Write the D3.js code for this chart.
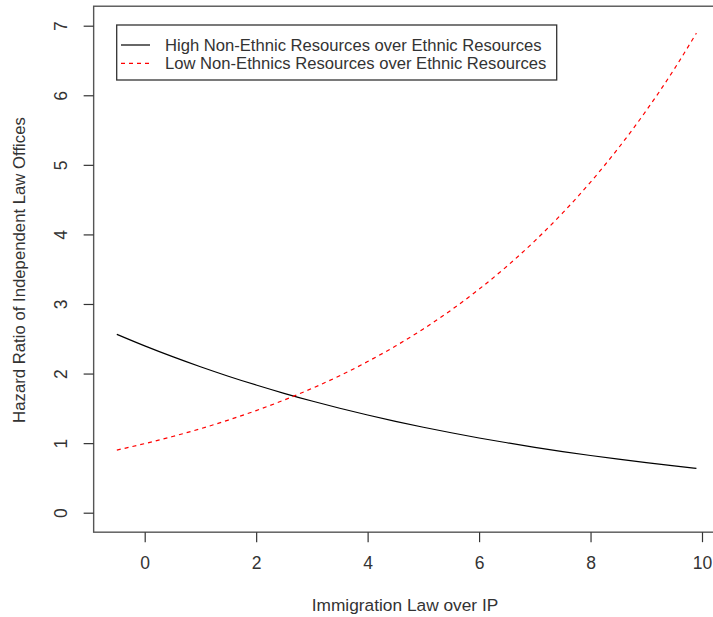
<!DOCTYPE html>
<html><head><meta charset="utf-8">
<script src="https://cdn.jsdelivr.net/npm/d3@7"></script>
<style>body{margin:0;background:#fff;} text{font-family:"Liberation Sans",Arial,sans-serif;}</style>
</head><body>
<svg id="c" width="713" height="617"></svg>
<script>
const xValues = [-0.5,0,0.5,1,1.5,2,2.5,3,3.5,4,4.5,5,5.5,6,6.5,7,7.5,8,8.5,9,9.5,9.9];
const highSeries = [2.564,2.398,2.243,2.098,1.962,1.835,1.716,1.605,1.501,1.404,1.313,1.228,1.149,1.074,1.005,0.940,0.879,0.822,0.769,0.719,0.672,0.638];
const lowSeries = [0.900,0.993,1.095,1.207,1.331,1.468,1.619,1.786,1.969,2.172,2.395,2.641,2.913,3.213,3.543,3.907,4.309,4.752,5.241,5.780,6.374,6.894];
const xTicks = [0,2,4,6,8,10];
const yTicks = [0,1,2,3,4,5,6,7];
const legendLabels = ["High Non-Ethnic Resources over Ethnic Resources","Low Non-Ethnics Resources over Ethnic Resources"];
const xTitle = "Immigration Law over IP";
const yTitle = "Hazard Ratio of Independent Law Offices";

const svg = d3.select("#c");
const x = d3.scaleLinear().domain([0,10]).range([144.7,702]);
const y = d3.scaleLinear().domain([0,7]).range([512.7,25.7]);
const x0 = x(-0.916), x1 = x(10.316), yTop = y(7.28), yBot = y(-0.28);

function fit(sel, target){
  sel.attr("font-size",100);
  const w = sel.node().getComputedTextLength();
  sel.attr("font-size", 100*target/w);
}

// box
svg.append("rect").attr("x",x0).attr("y",yTop).attr("width",x1-x0).attr("height",yBot-yTop)
  .attr("fill","none").attr("stroke","#555").attr("stroke-width",1.4);

// x axis
const gx = svg.append("g").attr("transform",`translate(0,${yBot})`)
  .call(d3.axisBottom(x).tickValues(xTicks).tickSize(10).tickPadding(14).tickFormat(d3.format("d")));
gx.select(".domain").remove();
gx.selectAll("line").attr("stroke","#333").attr("stroke-width",1.2);
gx.selectAll("text").attr("font-size",17.5).attr("fill","#333").attr("font-family","Liberation Sans, Arial, sans-serif");

// y axis
const gy = svg.append("g").attr("transform",`translate(${x0},0)`)
  .call(d3.axisLeft(y).tickValues(yTicks).tickSize(10).tickFormat(d3.format("d")));
gy.select(".domain").remove();
gy.selectAll("line").attr("stroke","#333").attr("stroke-width",1.2);
gy.selectAll("text").attr("font-size",17.5).attr("fill","#333").attr("font-family","Liberation Sans, Arial, sans-serif")
  .attr("x",null).attr("dy",null).attr("text-anchor","middle")
  .attr("transform","translate(-33,0) rotate(-90)").attr("dy","0.35em");

// titles
const xt = svg.append("text").attr("x",405).attr("y",611).attr("text-anchor","middle").attr("fill","#333").text(xTitle);
fit(xt,186.7);
const yt = svg.append("text").attr("text-anchor","middle").attr("fill","#333")
  .attr("transform",`translate(25,270) rotate(-90)`).text(yTitle);
fit(yt,306);

// lines
const line = d3.line().x((d,i)=>x(xValues[i])).y(d=>y(d)).curve(d3.curveMonotoneX);
svg.append("path").datum(highSeries).attr("d",line).attr("fill","none").attr("stroke","#000").attr("stroke-width",1.2);
svg.append("path").datum(lowSeries).attr("d",line).attr("fill","none").attr("stroke","#ff0000").attr("stroke-width",1.2).attr("stroke-dasharray","4,4");

// legend
svg.append("rect").attr("x",116.7).attr("y",25).attr("width",440).attr("height",55)
  .attr("fill","#fff").attr("stroke","#333").attr("stroke-width",1.3);
const ly = [45,63.3];
svg.append("line").attr("x1",121).attr("x2",150).attr("y1",ly[0]).attr("y2",ly[0]).attr("stroke","#000").attr("stroke-width",1.2);
svg.append("line").attr("x1",121).attr("x2",150).attr("y1",ly[1]).attr("y2",ly[1]).attr("stroke","#ff0000").attr("stroke-width",1.2).attr("stroke-dasharray","4,4");
const l1 = svg.append("text").attr("x",165).attr("y",ly[0]).attr("dy","0.35em").attr("fill","#333").text(legendLabels[0]);
fit(l1,376.7);
const fs = +l1.attr("font-size");
svg.append("text").attr("x",165).attr("y",ly[1]).attr("dy","0.35em").attr("fill","#333").attr("font-size",fs).text(legendLabels[1]);
</script>
</body></html>
